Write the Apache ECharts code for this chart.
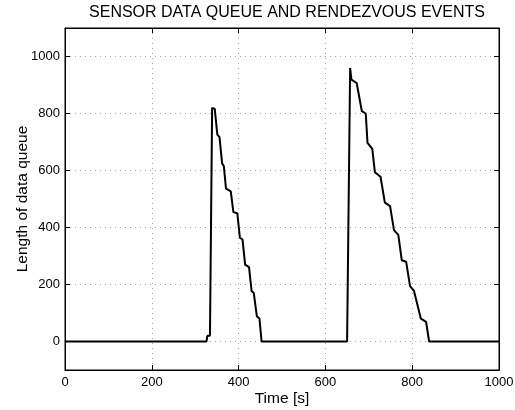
<!DOCTYPE html>
<html>
<head>
<meta charset="utf-8">
<script src="https://cdn.jsdelivr.net/npm/echarts@6/dist/echarts.min.js"></script>
<style>html,body{margin:0;padding:0;background:#fff}#c{width:515px;height:410px}</style>
</head>
<body>
<div id="c"></div>
<script>
const titleText = 'SENSOR DATA QUEUE AND RENDEZVOUS EVENTS';
const xName = 'Time [s]';
const yName = 'Length of data queue';
const yTicks = [0, 200, 400, 600, 800, 1000];
const timeS = [0, 326, 328, 334, 339, 345, 351, 356, 362, 366, 371, 382, 388, 397, 403, 409, 415, 424, 430, 435, 442, 448, 453,
  650, 652, 657, 660, 672, 684, 693, 697, 708, 714, 727, 737, 749, 758, 768, 776, 786, 795, 804, 820, 832, 839, 1000];
const queueLen = [0, 0, 20, 20, 820, 816, 726, 717, 625, 615, 536, 527, 454, 450, 364, 358, 270, 261, 177, 170, 89, 81, 0,
  0, 0, 960, 919, 907, 808, 800, 697, 676, 594, 578, 487, 475, 391, 374, 285, 280, 194, 178, 80, 69, 0, 0];

const data = timeS.map((t, i) => [t, queueLen[i]]);
const font = 'Liberation Sans, Arial, Helvetica, sans-serif';
const gridLine = { show: true, lineStyle: { color: '#aaa', type: [1, 4], width: 1 } };
const plain = v => String(v);

const chart = echarts.init(document.getElementById('c'), null, { renderer: 'canvas' });
chart.setOption({
  animation: false,
  backgroundColor: '#fff',
  title: { text: titleText, left: 282, top: 0, textAlign: 'center',
    textStyle: { fontFamily: font, fontWeight: 'normal', fontSize: 16, color: '#000' } },
  grid: { left: 65, right: 16, top: 28, bottom: 40, show: true, borderColor: '#000', borderWidth: 1,
    containLabel: false, outerBoundsMode: 'none' },
  xAxis: [
    { type: 'value', min: 0, max: 1000, interval: 200, name: xName, nameLocation: 'middle', nameGap: 21,
      nameMoveOverlap: false,
      nameTextStyle: { fontFamily: font, fontSize: 15.5, color: '#000' },
      axisLine: { show: true, onZero: false, lineStyle: { color: '#000' } },
      axisTick: { show: true, inside: true, length: 5, lineStyle: { color: '#000' } },
      axisLabel: { fontFamily: font, fontSize: 13, color: '#000', margin: 6, formatter: plain },
      splitLine: gridLine },
    { type: 'value', min: 0, max: 1000, interval: 200, position: 'top',
      axisLine: { show: true, onZero: false, lineStyle: { color: '#000' } },
      axisTick: { show: true, inside: true, length: 5, lineStyle: { color: '#000' } },
      axisLabel: { show: false }, splitLine: { show: false } }
  ],
  yAxis: [
    { type: 'value', min: -100, max: 1100, name: yName, nameLocation: 'middle', nameGap: 34,
      nameMoveOverlap: false,
      nameTextStyle: { fontFamily: font, fontSize: 15.5, color: '#000' },
      axisLine: { show: true, onZero: false, lineStyle: { color: '#000' } },
      axisTick: { show: true, inside: true, length: 5, customValues: yTicks, lineStyle: { color: '#000' } },
      axisLabel: { fontFamily: font, fontSize: 13, color: '#000', margin: 5, customValues: yTicks, formatter: plain },
      splitLine: gridLine },
    { type: 'value', min: -100, max: 1100, position: 'right',
      axisLine: { show: true, onZero: false, lineStyle: { color: '#000' } },
      axisTick: { show: true, inside: true, length: 5, customValues: yTicks, lineStyle: { color: '#000' } },
      axisLabel: { show: false, customValues: yTicks }, splitLine: { show: false } }
  ],
  series: [{
    type: 'line', data: data, xAxisIndex: 0, yAxisIndex: 0,
    showSymbol: false, symbol: 'none',
    lineStyle: { color: '#000', width: 2 }
  }]
});
</script>
</body>
</html>
